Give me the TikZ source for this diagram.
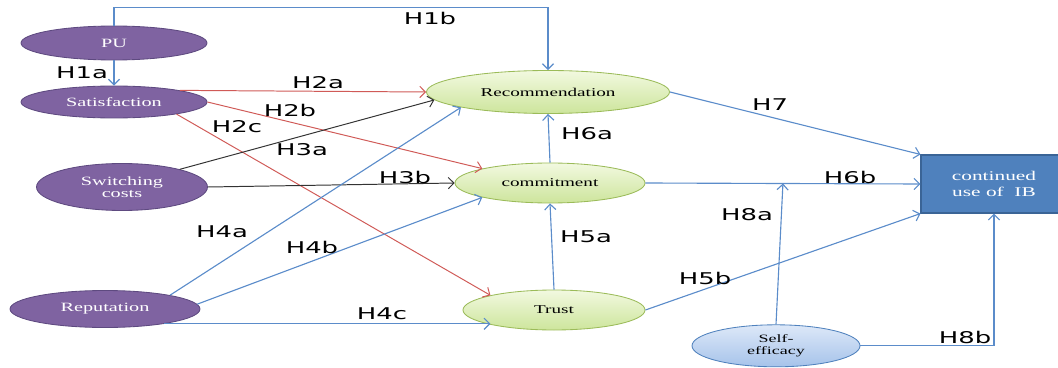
\documentclass[tikz,border=0pt]{standalone}
\usepackage{fontspec}
\usepackage{tikz}
\usetikzlibrary{shapes, arrows.meta, calc}

\newfontfamily\nodefont{Liberation Serif}[FakeStretch=1.6]
\newfontfamily\labfont{DejaVu Sans}[FakeStretch=1.6]

\definecolor{purplefill}{HTML}{7F63A1}
\definecolor{purpleline}{HTML}{5E4A80}
\definecolor{greentop}{HTML}{F2F9E0}
\definecolor{greenbot}{HTML}{CDE59C}
\definecolor{greenline}{HTML}{9BBB59}
\definecolor{bluetop}{HTML}{DDE8F8}
\definecolor{bluebot}{HTML}{A6C3EA}
\definecolor{boxfill}{HTML}{4F81BD}
\definecolor{boxline}{HTML}{3A6496}
\definecolor{bluelink}{HTML}{5B8CCA}
\definecolor{redlink}{HTML}{D05A57}
\definecolor{blacklink}{HTML}{333333}

\tikzset{
  antecedent/.style={ellipse, draw=purpleline, fill=purplefill, text=white, inner sep=0pt,
    line width=0.6pt, align=center, font=\nodefont\fontsize{9}{10}\selectfont},
  mediator/.style={ellipse, draw=greenline, top color=greentop, bottom color=greenbot, inner sep=0pt,
    line width=0.6pt, font=\nodefont\fontsize{8.5}{10}\selectfont},
  hlab/.style={font=\labfont\fontsize{11.5}{13}\selectfont, inner sep=0pt},
  blueln/.style={draw=bluelink, line width=0.8pt, ->},
  redln/.style={draw=redlink, line width=0.7pt, ->},
  blackln/.style={draw=blacklink, line width=0.7pt, ->}
}

\begin{document}
\begin{tikzpicture}[>={Straight Barb[length=4pt,width=8pt]}]
    \useasboundingbox (0,0) rectangle (26.45,9.175);

    % constructs
    \node[antecedent, minimum width=4.65cm, minimum height=0.85cm] (PU) at (2.85,8.1) {PU};
    \node[antecedent, minimum width=4.65cm, minimum height=0.8cm] (sat) at (2.85,6.625) {Satisfaction};
    \node[antecedent, minimum width=4.275cm, minimum height=1.175cm] (sw) at (3.05,4.5) {Switching\\[-1pt]costs};
    \node[antecedent, minimum width=4.75cm, minimum height=0.925cm] (rep) at (2.625,1.45) {Reputation};

    \node[mediator, minimum width=6.075cm, minimum height=1.075cm] (rec) at (13.7,6.875) {Recommendation};
    \node[mediator, minimum width=4.75cm, minimum height=1.0cm] (com) at (13.75,4.6) {commitment};
    \node[mediator, minimum width=4.55cm, minimum height=1.0cm] (trust) at (13.85,1.425) {Trust};

    \node[ellipse, draw=boxfill, top color=bluetop, bottom color=bluebot, inner sep=0pt, line width=0.6pt,
      minimum width=4.2cm, minimum height=1.05cm, align=center,
      font=\nodefont\fontsize{8}{8.5}\selectfont] (self) at (19.4,0.53) {Self-\\efficacy};

    \node[draw=boxline, fill=boxfill, text=white, line width=0.8pt, minimum width=3.65cm, minimum height=1.45cm,
      align=center, font=\nodefont\fontsize{9.5}{11}\selectfont] (ci) at (24.85,4.575) {continued\\use of~~IB};

    % paths
    \draw[blueln] (PU.north) -- ++(0,0.45) -| (rec.north);
    \draw[blueln] (PU.south) -- (sat.north);
    \draw[redln] (sat.10) -- (rec.west);
    \draw[redln] (sat.east) -- (com.168);
    \draw[redln] (sat.-11) -- (trust.167);
    \draw[blackln] (sw.17) -- (rec.184);
    \draw[blackln] (sw.east) -- (com.west);
    \draw[blueln] (rep.12) -- (rec.190);
    \draw[blueln] (rep.3) -- (com.192);
    \draw[blueln] (rep.-14) -- (rep.-14 -| trust.193);
    \draw[blueln] (trust.north) -- (com.south);
    \draw[blueln] (com.north) -- (rec.south);
    \draw[blueln] (rec.east) -- (ci.north west);
    \draw[blueln] (com.east) -- (ci.west);
    \draw[blueln] (trust.east) -- (ci.south west);
    \coordinate (mod) at ($(com.east)!0.5!(ci.west)$);
    \draw[blueln] (self.north) -- (mod);
    \draw[blueln] (self.east) -| (ci.south);

    % hypotheses
    \foreach \hyp/\x/\y in {H1a/2.05/7.35, H1b/10.75/8.725, H2a/7.95/7.1, H2b/7.25/6.425, H2c/5.925/6.0,
        H3a/7.55/5.425, H3b/10.125/4.75, H4a/5.55/3.375, H4b/7.8/3.0, H4c/9.55/1.325,
        H5a/14.65/3.25, H5b/17.625/2.225, H6a/14.675/5.825, H6b/21.25/4.75, H7/19.25/6.55,
        H8a/18.675/3.8, H8b/24.125/0.75}
        \node[hlab] (\hyp) at (\x,\y) {\hyp};
\end{tikzpicture}
\end{document}
